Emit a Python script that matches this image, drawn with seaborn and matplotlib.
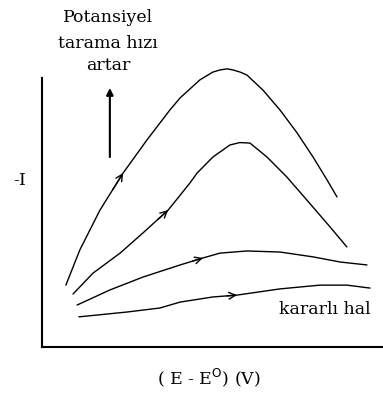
import numpy as np
import pandas as pd
import matplotlib
matplotlib.use("Agg")
import matplotlib.pyplot as plt
import seaborn as sns

# Current vs. potential curves for increasing scan rate (arbitrary units)
x_fast = [0.70, 1.11, 1.70, 2.38, 3.08, 3.75, 4.05, 4.63, 5.01, 5.22, 5.43, 5.60, 5.81, 6.01, 6.48, 6.98, 7.48, 7.95, 8.36, 8.65]
y_fast = [2.30, 3.61, 5.09, 6.47, 7.70, 8.81, 9.26, 9.93, 10.22, 10.30, 10.34, 10.30, 10.22, 10.11, 9.55, 8.81, 7.96, 7.06, 6.21, 5.58]

x_mid = [0.91, 1.50, 2.29, 2.96, 3.70, 4.34, 4.55, 5.01, 5.51, 5.80, 6.10, 6.60, 7.18, 7.77, 8.45, 8.94]
y_mid = [1.97, 2.75, 3.49, 4.24, 5.09, 6.10, 6.47, 7.06, 7.51, 7.60, 7.58, 7.06, 6.32, 5.46, 4.46, 3.72]

x_slow = [1.03, 1.99, 2.96, 4.05, 4.72, 5.22, 6.01, 6.98, 7.95, 8.74, 9.53]
y_slow = [1.56, 2.12, 2.60, 3.05, 3.31, 3.49, 3.57, 3.53, 3.35, 3.16, 3.05]

x_steady = [1.08, 2.49, 3.46, 4.05, 5.01, 5.72, 6.98, 8.15, 8.94, 9.62]
y_steady = [1.12, 1.30, 1.45, 1.67, 1.86, 1.93, 2.16, 2.30, 2.30, 2.19]

curve_names = ["c1", "c2", "c3", "c4"]
arrow_at = [2.38, 3.70, 4.72, 5.72]

sns.set_style("white")
plt.rcParams["font.family"] = ["DejaVu Serif"]
plt.rcParams["text.color"] = "black"

frames = []
for name, xs, ys in zip(curve_names, [x_fast, x_mid, x_slow, x_steady], [y_fast, y_mid, y_slow, y_steady]):
    frames.append(pd.DataFrame({"E": xs, "I": ys, "curve": name}))
df = pd.concat(frames, ignore_index=True)

W, H = 383, 394
fig = plt.figure(figsize=(W / 100, H / 100), dpi=100)
ax_left, ax_bottom = 42 / W, 1 - 347 / H
ax = fig.add_axes([ax_left, ax_bottom, 1 - ax_left, (347 - 60) / H])

sns.lineplot(data=df, x="E", y="I", units="curve", estimator=None, sort=False,
             color="black", linewidth=1.0, ax=ax, legend=False)

ax.set_xlim(0, 341 / 34.1)
ax.set_ylim(0, (347 - 60) / 26.9)
ax.set_xticks([])
ax.set_yticks([])
ax.set_xlabel("")
ax.set_ylabel("")
for s in ["top", "right"]:
    ax.spines[s].set_visible(False)
for s in ["left", "bottom"]:
    ax.spines[s].set_linewidth(1.5)
    ax.spines[s].set_color("black")
ax.spines["left"].set_bounds(0, (347 - 78) / 26.9)

# direction arrows along each curve
for xs, ys, xa in zip([x_fast, x_mid, x_slow, x_steady], [y_fast, y_mid, y_slow, y_steady], arrow_at):
    ya = np.interp(xa, xs, ys)
    xb = xa - 0.3
    yb = np.interp(xb, xs, ys)
    ax.annotate("", xy=(xa, ya), xytext=(xb, yb),
                arrowprops=dict(arrowstyle="->", color="black", lw=1.0,
                                mutation_scale=12, shrinkA=0, shrinkB=0))

# scan-rate increase arrow
ax.annotate("", xy=(1.99, 9.63), xytext=(1.99, 7.06),
            arrowprops=dict(arrowstyle="-|>", color="black", lw=1.5,
                            mutation_scale=10, shrinkA=0, shrinkB=0),
            annotation_clip=False)

fs = 12.5
fig.text(108 / W, 1 - 18 / H, "Potansiyel", ha="center", va="center", fontsize=fs)
fig.text(108 / W, 1 - 43 / H, "tarama hızı", ha="center", va="center", fontsize=fs)
fig.text(108 / W, 1 - 65 / H, "artar", ha="center", va="center", fontsize=fs)
fig.text(20 / W, 1 - 180 / H, "-I", ha="center", va="center", fontsize=fs)
fig.text(325 / W, 1 - 310 / H, "kararlı hal", ha="center", va="center", fontsize=fs)
fig.text(209 / W, 1 - 378 / H, "( E - E$^{\\rm O}$) (V)", ha="center", va="center", fontsize=fs)

fig.savefig("out.png", dpi=100)
